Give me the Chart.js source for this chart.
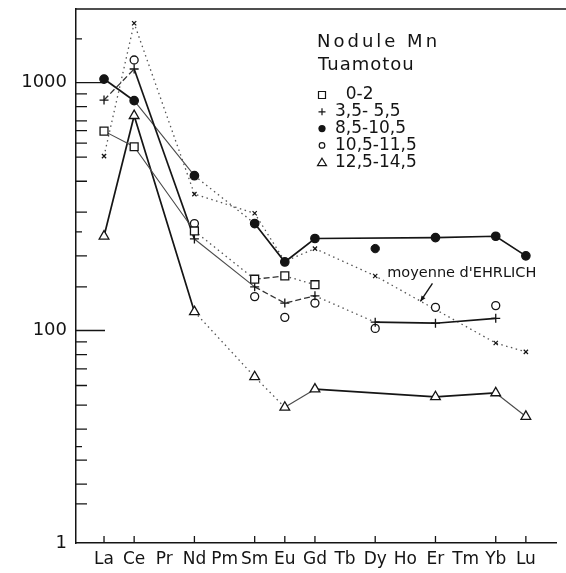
<!DOCTYPE html>
<html>
<head>
<meta charset="utf-8">
<script src="https://cdn.jsdelivr.net/npm/chart.js@4/dist/chart.umd.min.js"></script>
<style>
  html, body { margin: 0; padding: 0; background: #fff; }
  #wrap { width: 566px; height: 573px; }
</style>
</head>
<body>
<div id="wrap"><canvas id="terres"></canvas></div>
<script>
// Terres rares, nodule Mn Tuamotou (normalisé chondrites)
const elements = ['La', 'Ce', 'Pr', 'Nd', 'Pm', 'Sm', 'Eu', 'Gd', 'Tb', 'Dy', 'Ho', 'Er', 'Tm', 'Yb', 'Lu'];

const s0_2    = [637, 551, null, 252, null, 161, 166, 153, null, null, null, null, null, null, null];
const s35_55  = [850, 1134, null, 234, null, 150, 129, 138, null, 108, null, 107, null, 112, null];
const s85_105 = [1033, 845, null, 421, null, 270, 189, 235, null, null, null, 237, null, 240, 200];
const s85_105Dy = 214; // point isolé, non relié
const s105_115 = [null, 1233, null, 270, null, 137, 113, 129, null, 102, null, 124, null, 126, null];
const s125_145 = [240, 735, null, 119, null, 65, 49, 58, null, null, null, 54, null, 56, 45];
const ehrlich  = [505, 1734, null, 355, null, 297, 190, 214, null, 166, null, null, null, 89, 82];

const seriesLabels = ['  0-2', '3,5- 5,5', '8,5-10,5', '10,5-11,5', '12,5-14,5'];
const titleLines = ['Nodule Mn', 'Tuamotou'];
const ehrlichLabel = "moyenne d'EHRLICH";

// axe Y
const yMin = 13.9, yMax = 1980;
const yLabelVals = [1000, 100, yMin];
const yLabelText = ['1000', '100', '1'];
const yMinorTicks = [900, 800, 700, 640, 570, 500, 400, 300, 200, 150, 90, 80, 70, 60, 50, 40, 30, 24, 20];
const yShortTicks = [1500, 250, 34];

const FONT = 'DejaVu Sans';
const INK = '#141414';

const looks = {
  solid: { dash: [], width: 1.7, color: '#151515' },
  thin:  { dash: [], width: 1.1, color: '#4a4a4a' },
  dash:  { dash: [6, 3], width: 1.3, color: '#333' },
  dot:   { dash: [1.5, 3.5], width: 1.3, color: '#555' }
};

function toPoints(arr) {
  return arr.map((v, i) => ({ x: i, y: v })).filter(p => p.y != null);
}

// style de chaque segment, repéré par l'élément de départ
function segmentStyle(map, fallback) {
  const pick = ctx => {
    const start = ctx.chart.data.datasets[ctx.datasetIndex].data[ctx.p0DataIndex].x;
    return looks[map[start] || fallback];
  };
  return {
    borderDash: ctx => pick(ctx).dash,
    borderWidth: ctx => pick(ctx).width,
    borderColor: ctx => pick(ctx).color
  };
}

function series(label, arr, marker, map, fallback) {
  return Object.assign({
    label: label,
    data: toPoints(arr),
    borderColor: INK,
    borderWidth: 1.5,
    pointBorderColor: INK,
    pointBorderWidth: 1.3,
    segment: segmentStyle(map || {}, fallback || 'solid')
  }, marker);
}

const datasets = [
  series(seriesLabels[0], s0_2, { pointStyle: 'rect', pointRadius: 5.6, pointBackgroundColor: '#fff' },
    { 0: 'thin', 1: 'thin', 3: 'dot', 5: 'dash', 6: 'dot' }),
  series(seriesLabels[1], s35_55, { pointStyle: 'cross', pointRadius: 4.5, pointBackgroundColor: INK },
    { 0: 'dash', 1: 'solid', 3: 'thin', 5: 'dash', 6: 'dash', 7: 'dot', 9: 'solid', 11: 'solid' }),
  series(seriesLabels[2], s85_105, { pointStyle: 'circle', pointRadius: 4.2, pointBackgroundColor: INK },
    { 0: 'solid', 1: 'thin', 3: 'dot', 5: 'solid', 6: 'solid', 7: 'solid', 11: 'solid', 13: 'solid' }),
  {
    label: seriesLabels[2] + ' Dy',
    data: [{ x: elements.indexOf('Dy'), y: s85_105Dy }],
    showLine: false,
    pointStyle: 'circle', pointRadius: 4.2,
    pointBackgroundColor: INK, pointBorderColor: INK
  },
  Object.assign(series(seriesLabels[3], s105_115, { pointStyle: 'circle', pointRadius: 4, pointBackgroundColor: '#fff' }), { showLine: false }),
  series(seriesLabels[4], s125_145, { pointStyle: 'triangle', pointRadius: 5.6, pointBackgroundColor: '#fff' },
    { 0: 'solid', 1: 'solid', 3: 'dot', 5: 'dot', 6: 'thin', 7: 'solid', 11: 'solid', 13: 'thin' }),
  series(ehrlichLabel, ehrlich, { pointStyle: 'crossRot', pointRadius: 3, pointBorderWidth: 1.2, pointBackgroundColor: INK },
    {}, 'dot')
];

function drawMarker(ctx, kind, x, y) {
  ctx.save();
  ctx.strokeStyle = INK;
  ctx.fillStyle = INK;
  ctx.lineWidth = 1.2;
  ctx.beginPath();
  if (kind === 'rect') {
    ctx.rect(x - 3.5, y - 3.5, 7, 7);
    ctx.stroke();
  } else if (kind === 'cross') {
    ctx.moveTo(x - 3.5, y); ctx.lineTo(x + 3.5, y);
    ctx.moveTo(x, y - 3.5); ctx.lineTo(x, y + 3.5);
    ctx.stroke();
  } else if (kind === 'dot') {
    ctx.arc(x, y, 3.6, 0, Math.PI * 2);
    ctx.fill();
  } else if (kind === 'ring') {
    ctx.arc(x, y, 2.8, 0, Math.PI * 2);
    ctx.stroke();
  } else if (kind === 'tri') {
    ctx.moveTo(x, y - 4); ctx.lineTo(x + 4.5, y + 3.5); ctx.lineTo(x - 4.5, y + 3.5);
    ctx.closePath();
    ctx.stroke();
  }
  ctx.restore();
}

const decorPlugin = {
  id: 'decor',
  beforeDatasetsDraw(chart) {
    const { ctx, chartArea: a, scales: { x, y } } = chart;
    ctx.save();
    ctx.strokeStyle = INK;
    ctx.lineWidth = 1.3;
    // cadre supérieur
    ctx.beginPath();
    ctx.moveTo(a.left, a.top);
    ctx.lineTo(chart.width, a.top);
    ctx.stroke();
    // graduations Y vers l'intérieur
    ctx.beginPath();
    const mark = (v, len) => {
      const py = y.getPixelForValue(v);
      ctx.moveTo(a.left, py);
      ctx.lineTo(a.left + len, py);
    };
    yLabelVals.filter(v => v !== yMin).forEach(v => mark(v, 29));
    yMinorTicks.forEach(v => mark(v, 11));
    yShortTicks.forEach(v => mark(v, 6));
    // graduations X aux éléments dosés
    const series = [s0_2, s35_55, s85_105, s105_115, s125_145];
    elements.forEach((el, i) => {
      if (series.some(s => s[i] != null)) {
        const px = x.getPixelForValue(i);
        ctx.moveTo(px, a.bottom);
        ctx.lineTo(px, a.bottom - 7);
      }
    });
    ctx.stroke();
    ctx.restore();
  },
  afterDraw(chart) {
    const { ctx, chartArea: a, scales: { x, y } } = chart;
    ctx.save();
    ctx.fillStyle = INK;
    ctx.textBaseline = 'middle';
    ctx.textAlign = 'left';

    // titre de la légende
    ctx.font = '18px "' + FONT + '"';
    if ('letterSpacing' in ctx) ctx.letterSpacing = '3px';
    ctx.fillText(titleLines[0], a.left + 241, a.top + 33);
    if ('letterSpacing' in ctx) ctx.letterSpacing = '1px';
    ctx.fillText(titleLines[1], a.left + 242, a.top + 56);
    if ('letterSpacing' in ctx) ctx.letterSpacing = '0px';

    // entrées de la légende
    const kinds = ['rect', 'cross', 'dot', 'ring', 'tri'];
    ctx.font = '17px "' + FONT + '"';
    seriesLabels.forEach((lab, i) => {
      const ry = a.top + 86 + i * 16.8;
      drawMarker(ctx, kinds[i], a.left + 246, ry);
      ctx.fillStyle = INK;
      ctx.fillText(lab, a.left + 259, ry);
    });

    // étiquette de la moyenne d'Ehrlich, avec sa flèche
    const iDy = elements.indexOf('Dy');
    ctx.font = '14.5px "' + FONT + '"';
    ctx.fillText(ehrlichLabel, x.getPixelForValue(iDy) + 12, y.getPixelForValue(ehrlich[iDy]) - 3);

    const tx = x.getPixelForValue(10.9), ty = y.getPixelForValue(155);
    const hx = x.getPixelForValue(10.5), hy = y.getPixelForValue(131);
    ctx.strokeStyle = INK;
    ctx.lineWidth = 1.4;
    ctx.beginPath();
    ctx.moveTo(tx, ty);
    ctx.lineTo(hx, hy);
    ctx.stroke();
    const ang = Math.atan2(hy - ty, hx - tx);
    ctx.beginPath();
    ctx.moveTo(hx, hy);
    ctx.lineTo(hx - 6 * Math.cos(ang - 0.4), hy - 6 * Math.sin(ang - 0.4));
    ctx.lineTo(hx - 6 * Math.cos(ang + 0.4), hy - 6 * Math.sin(ang + 0.4));
    ctx.closePath();
    ctx.fill();
    ctx.restore();
  }
};

new Chart(document.getElementById('terres'), {
  type: 'line',
  data: { datasets: datasets },
  plugins: [decorPlugin],
  options: {
    responsive: true,
    maintainAspectRatio: false,
    animation: false,
    devicePixelRatio: 1,
    spanGaps: true,
    layout: { padding: { top: 9, right: 10, left: 0, bottom: 0 } },
    plugins: {
      legend: { display: false },
      tooltip: { enabled: false }
    },
    scales: {
      x: {
        type: 'linear',
        min: -0.93,
        max: 15,
        afterBuildTicks: s => { s.ticks = elements.map((_, i) => ({ value: i })); },
        afterFit: s => { s.height = 30; s.paddingLeft = 0; s.paddingRight = 0; },
        ticks: {
          autoSkip: false,
          maxRotation: 0,
          padding: 6,
          color: INK,
          font: { family: FONT, size: 17 },
          callback: v => elements[v] ?? ''
        },
        grid: { display: false, drawTicks: false },
        border: { display: true, color: INK, width: 1.5 }
      },
      y: {
        type: 'logarithmic',
        min: yMin,
        max: yMax,
        afterBuildTicks: s => { s.ticks = yLabelVals.map(v => ({ value: v })); },
        afterFit: s => { s.width = 76; s.paddingTop = 0; s.paddingBottom = 0; },
        ticks: {
          padding: 9,
          color: INK,
          font: { family: FONT, size: 18 },
          callback: v => yLabelText[yLabelVals.indexOf(v)] ?? ''
        },
        grid: { display: false, drawTicks: false },
        border: { display: true, color: INK, width: 1.5 }
      }
    }
  }
});
</script>
</body>
</html>
